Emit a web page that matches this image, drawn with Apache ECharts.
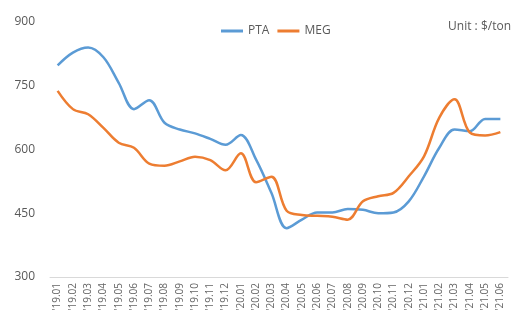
<!DOCTYPE html>
<html><head><meta charset="utf-8">
<script src="https://cdn.jsdelivr.net/npm/echarts@6/dist/echarts.min.js"></script>
<style>html,body{margin:0;padding:0;background:#fff}#c{width:529px;height:326px}</style>
</head><body><div id="c"></div>
<script>
const categories = ["'19.01","'19.02","'19.03","'19.04","'19.05","'19.06","'19.07","'19.08","'19.09","'19.10","'19.11","'19.12",
"'20.01","'20.02","'20.03","'20.04","'20.05","'20.06","'20.07","'20.08","'20.09","'20.10","'20.11","'20.12",
"'21.01","'21.02","'21.03","'21.04","'21.05","'21.06"];
const pta = [798,828,840,817,757,695,716,663,647,638,625,611,634,576,498,415,435,452,452,460,458,450,452,478,537,604,647,643,672,672];
const meg = [738,695,683,651,616,604,567,562,572,583,575,551,591,523,536,456,446,444,442,435,478,490,498,537,584,675,718,640,633,641];
const yTicks = {min:300, max:900, interval:150};
const font = "'Open Sans', 'Noto Sans', sans-serif";
const chart = echarts.init(document.getElementById('c'));
chart.setOption({
  animation:false,
  grid:{left:50,right:21,top:22,bottom:49,containLabel:false},
  legend:{top:20,data:['PTA','MEG'],icon:'path://M0,0 L22,0 L22,3 L0,3 Z',itemWidth:22,itemHeight:3,itemGap:8,
    textStyle:{color:'#595959',fontSize:12,fontFamily:font},left:216},
  graphic:[{type:'text',right:18,top:21,style:{text:'Unit : $/ton',fill:'#595959',font:'12px '+font}}],
  xAxis:{type:'category',data:categories,boundaryGap:true,
    axisLine:{lineStyle:{color:'#d9d9d9'}},axisTick:{show:false},
    axisLabel:{rotate:90,color:'#666666',fontSize:10,fontFamily:font,interval:0,margin:6}},
  yAxis:{type:'value',min:yTicks.min,max:yTicks.max,interval:yTicks.interval,
    splitLine:{show:false},axisLine:{show:false},axisTick:{show:false},
    axisLabel:{color:'#595959',fontSize:12,fontFamily:font,margin:15}},
  series:[
    {name:'PTA',type:'line',data:pta,smooth:0.35,symbol:'none',lineStyle:{color:'#5B9BD5',width:2.5},itemStyle:{color:'#5B9BD5'}},
    {name:'MEG',type:'line',data:meg,smooth:0.35,symbol:'none',lineStyle:{color:'#ED7D31',width:2.5},itemStyle:{color:'#ED7D31'}}
  ]
});
</script></body></html>
